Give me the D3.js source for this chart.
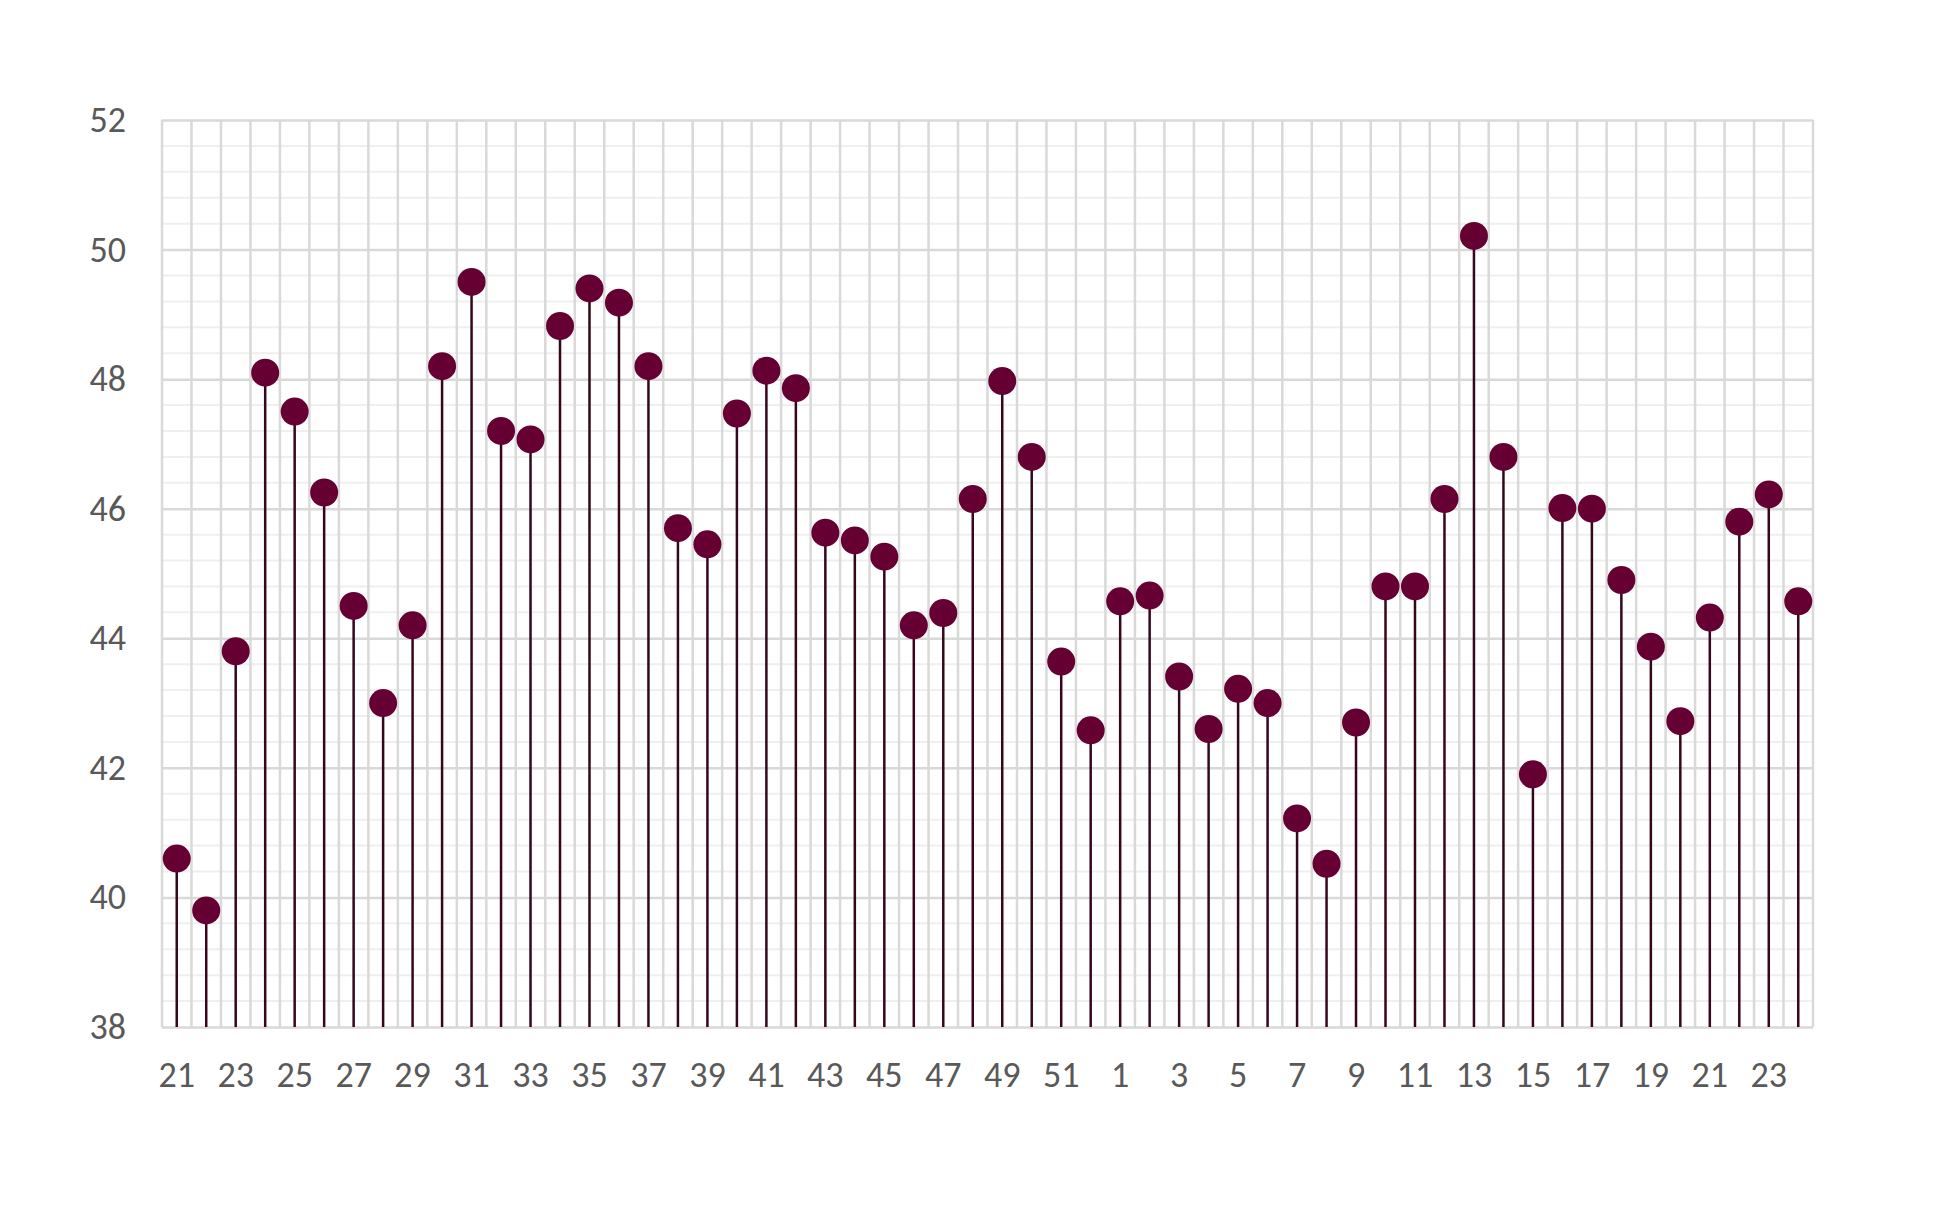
<!DOCTYPE html>
<html>
<head>
<meta charset="utf-8">
<script src="https://cdn.jsdelivr.net/npm/d3@7"></script>
<style>
  body { margin: 0; background: #fff; }
  .tick text { font-family: Calibri, Carlito, "Open Sans", sans-serif; fill: #595959; }
</style>
</head>
<body>
<div id="chart"></div>
<script>
// week numbers along the x axis (two years running on)
var weeks = [21, 22, 23, 24, 25, 26, 27, 28, 29, 30, 31, 32, 33, 34, 35, 36,
    37, 38, 39, 40, 41, 42, 43, 44, 45, 46, 47, 48, 49, 50, 51, 52,
    1, 2, 3, 4, 5, 6, 7, 8, 9, 10, 11, 12, 13, 14, 15, 16,
    17, 18, 19, 20, 21, 22, 23, 24];

var values = [40.6, 39.8, 43.8, 48.1, 47.5, 46.25, 44.5, 43.0, 44.2, 48.2, 49.5, 47.2, 47.07, 48.82, 49.4, 49.18,
    48.2, 45.7, 45.45, 47.47, 48.13, 47.86, 45.63, 45.51, 45.26, 44.2, 44.39, 46.15, 47.97, 46.8, 43.64, 42.58,
    44.57, 44.66, 43.41, 42.6, 43.22, 43.0, 41.22, 40.52, 42.7, 44.8, 44.8, 46.15, 50.21, 46.8, 41.9, 46.01,
    46.0, 44.9, 43.87, 42.72, 44.32, 45.8, 46.22, 44.57];

var yTicks = [38, 40, 42, 44, 46, 48, 50, 52];

var data = weeks.map(function (w, i) {
    return { idx: i, week: w, value: values[i] };
});

var margin = { top: 120, right: 142, bottom: 184, left: 162 },
    width = 1955 - margin.left - margin.right,
    height = 1211 - margin.top - margin.bottom;

var svg = d3.select("#chart")
    .append("svg")
    .attr("width", 1955)
    .attr("height", 1211);

var g = svg.append("g")
    .attr("transform", "translate(" + margin.left + "," + margin.top + ")");

var xScale = d3.scaleBand()
    .domain(data.map(d => d.idx))
    .range([0, width])
    .padding(0);

var yScale = d3.scaleLinear()
    .domain([38, 52])
    .range([height, 0]);

// minor horizontal gridlines every 0.4
var minor = d3.range(38, 52.001, 0.4).filter(v => Math.abs(v / 2 - Math.round(v / 2)) > 0.01);
g.append("g").selectAll("line").data(minor)
    .enter().append("line")
    .attr("x1", 0).attr("x2", width)
    .attr("y1", d => yScale(d)).attr("y2", d => yScale(d))
    .attr("stroke", "#efefef")
    .attr("stroke-width", 2);

// vertical gridlines at category boundaries
var bounds = data.map(d => xScale(d.idx)).concat([width]);
g.append("g").selectAll("line").data(bounds)
    .enter().append("line")
    .attr("x1", d => d).attr("x2", d => d)
    .attr("y1", 0).attr("y2", height)
    .attr("stroke", "#d9d9d9")
    .attr("stroke-width", 2.5);

// major horizontal gridlines + labels
var yAxis = d3.axisLeft(yScale)
    .tickValues(yTicks)
    .tickSize(-width)
    .tickPadding(36)
    .tickFormat(d3.format("d"));

var yAxisG = g.append("g").call(yAxis);
yAxisG.select(".domain").remove();
yAxisG.selectAll(".tick line")
    .attr("stroke", "#d9d9d9")
    .attr("stroke-width", 2.5);
yAxisG.selectAll(".tick text")
    .style("font-size", "36px");

var xAxis = d3.axisBottom(xScale)
    .tickValues(data.filter((d, i) => i % 2 === 0).map(d => d.idx))
    .tickFormat(i => weeks[i])
    .tickSize(0)
    .tickPadding(34);

var xAxisG = g.append("g")
    .attr("transform", "translate(0," + height + ")")
    .call(xAxis);
xAxisG.select(".domain").remove();
xAxisG.selectAll(".tick text")
    .style("font-size", "36px");

var cx = d => xScale(d.idx) + xScale.bandwidth() / 2;

// stems
g.append("g").selectAll("line").data(data)
    .enter().append("line")
    .attr("x1", cx).attr("x2", cx)
    .attr("y1", height)
    .attr("y2", d => yScale(d.value))
    .attr("stroke", "#35061c")
    .attr("stroke-width", 2.5);

// markers
g.append("g").selectAll("circle").data(data)
    .enter().append("circle")
    .attr("cx", cx)
    .attr("cy", d => yScale(d.value))
    .attr("r", 14)
    .attr("fill", "#660033");
</script>
</body>
</html>
